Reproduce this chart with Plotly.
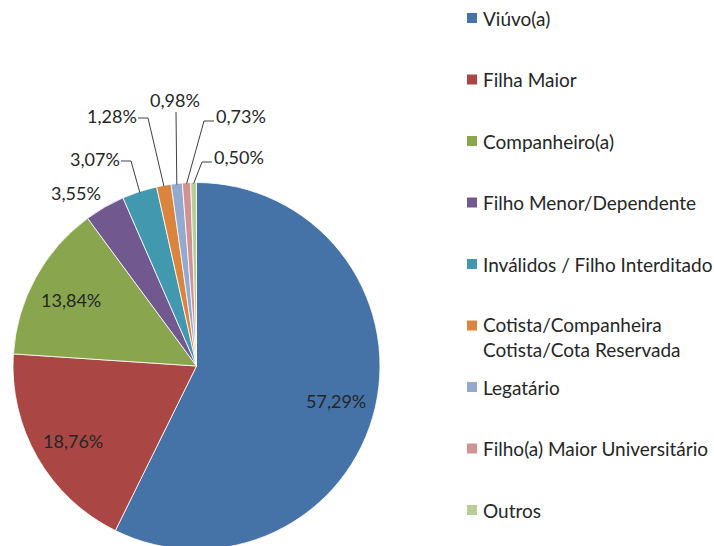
import math
import plotly.graph_objects as go

labels = ["Viúvo(a)", "Filha Maior", "Companheiro(a)", "Filho Menor/Dependente",
          "Inválidos / Filho Interditado", "Cotista/Companheira<br>Cotista/Cota Reservada",
          "Legatário", "Filho(a) Maior Universitário", "Outros"]
values = [57.29, 18.76, 13.84, 3.55, 3.07, 1.28, 0.98, 0.73, 0.50]
colors = ["#4572A7", "#AA4643", "#89A54E", "#71588F", "#4198AF",
          "#DB843D", "#93A9CF", "#D19392", "#B9CD96"]

# label placement (style): None -> inside at fraction of radius;
# otherwise (label center x, y in px, leader elbow side)
outside_pos = [None, None, None,
               (76, 193, None),
               (95, 159, "right"),
               (112, 116, "right"),
               (175, 100, "below"),
               (241, 116, "left"),
               (239, 157, "left")]

W, H = 714, 552
CX, CY, R = 196.5, 366, 183.5
FONT = "Lato, 'Open Sans', sans-serif"
TXT = "#262626"


def px(x):
    return x / W


def py(y):
    return 1 - y / H


fig = go.Figure(go.Pie(
    labels=labels, values=values, sort=False, direction="clockwise", rotation=0,
    marker=dict(colors=colors, line=dict(color="white", width=0.8)),
    textinfo="none", hoverinfo="label+percent",
    showlegend=False,
    domain=dict(x=[px(CX - R), px(CX + R)], y=[py(CY + R), py(CY - R)]),
))

total = sum(values)
cum = 0.0
for v, pos in zip(values, outside_pos):
    mid = (cum + v / 2) / total * 2 * math.pi
    cum += v
    txt = f"{v:.2f}%".replace(".", ",")
    if pos is None:
        r = 0.78 * R
        x, y = CX + r * math.sin(mid), CY - r * math.cos(mid) + 3
        fig.add_annotation(xref="paper", yref="paper", x=px(x), y=py(y), text=txt,
                           showarrow=False, xanchor="center", yanchor="middle",
                           font=dict(family=FONT, size=18, color=TXT))
        continue
    lx, ly, side = pos
    fig.add_annotation(xref="paper", yref="paper", x=px(lx), y=py(ly), text=txt,
                       showarrow=False, xanchor="center", yanchor="middle",
                       font=dict(family=FONT, size=18, color=TXT))
    if side is None:
        continue
    ex, ey = CX + (R - 1) * math.sin(mid), CY - (R - 1) * math.cos(mid)
    if side == "right":
        sx, sy = lx + 26, ly + 2
        elbow = (sx + 10, sy)
    elif side == "left":
        sx, sy = lx - 27, ly + 5
        elbow = (sx - 10, sy)
    else:
        sx, sy = lx + 1, ly + 12
        elbow = (sx, sy)
    path = f"M {px(sx)},{py(sy)} L {px(elbow[0])},{py(elbow[1])} L {px(ex)},{py(ey)}"
    fig.add_shape(type="path", xref="paper", yref="paper", path=path,
                  line=dict(color="#404040", width=1))

# custom legend
y0, step = 18, 61.5
for i, (lab, col) in enumerate(zip(labels, colors)):
    y = y0 + step * i
    nl = lab.count("<br>") + 1
    fig.add_shape(type="rect", xref="paper", yref="paper",
                  x0=px(467), x1=px(477), y0=py(y + 5), y1=py(y - 5),
                  fillcolor=col, line=dict(width=0))
    fig.add_annotation(xref="paper", yref="paper", x=px(481), y=py(y + (nl - 1) * 11.5),
                       xanchor="left", yanchor="middle", text=lab, showarrow=False,
                       align="left", font=dict(family=FONT, size=19, color=TXT))

fig.update_layout(width=W, height=H, margin=dict(l=0, r=0, t=0, b=0),
                  paper_bgcolor="white", plot_bgcolor="white", separators=",.")
fig.write_html("out.html", config={"displayModeBar": False},
               post_script="document.body.style.margin='0';"
                           "document.body.style.overflow='hidden';")
